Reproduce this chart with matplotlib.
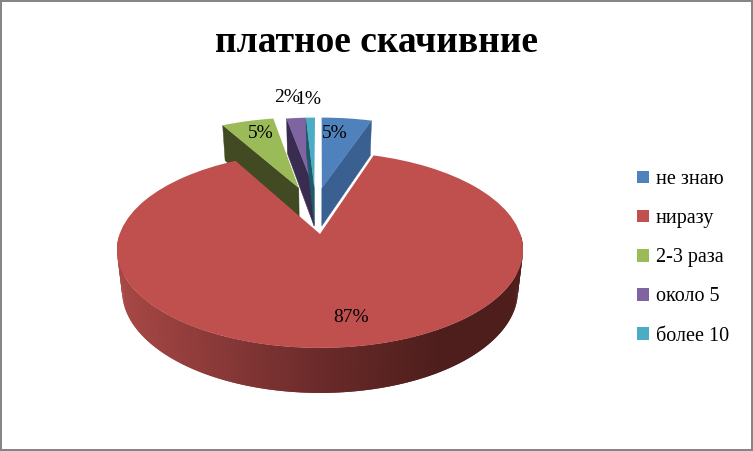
import numpy as np
import matplotlib
matplotlib.use("Agg")
import matplotlib.pyplot as plt
from matplotlib.patches import Patch, Rectangle
from matplotlib.transforms import Transform

# -----------------------------
# DATA
# -----------------------------
title = "платное скачивние"
categories = ["не знаю", "ниразу", "2-3 раза", "около 5", "более 10"]
values = [5.0, 87.0, 5.2, 1.9, 0.9]

top_colors = ["#4f81bd", "#c0504d", "#9bbb59", "#8064a2", "#4bacc6"]
cut_colors = ["#3a6091", "#8c3836", "#414a23", "#3a2c50", "#1f5a6c"]

# -----------------------------
# LAYOUT (pixels of the picture)
# -----------------------------
CX, CY = 320, 234
RX, RY = 200.3, 95.4
PERSP = 0.163
THICK = 40
BOTTOM_SCALE = 0.975

# how far each slice is pulled out, in pie units
pull_u = [0.01, 0.0, -0.115, -0.033, -0.031]
pull_v = [0.523, 0.0, 0.523, 0.523, 0.523]
label_pos = [(335, 133), (351, 317), (261, 134), (287.5, 97), (308.5, 99)]


def project(u, v, level=0.0):
    den = 1 + PERSP * v
    scale = 1 - (1 - BOTTOM_SCALE) * level
    x = CX + RX * scale * u / den
    y = CY + (THICK * level - RY * scale * v) / den
    return x, y


class SliceTransform(Transform):
    input_dims = 2
    output_dims = 2
    is_separable = False

    def __init__(self, du, dv):
        super().__init__()
        self.du = du
        self.dv = dv

    def transform_non_affine(self, values):
        values = np.asarray(values)
        x, y = project(values[:, 0] + self.du, values[:, 1] + self.dv)
        return np.column_stack([x, y])


def wall_color(x):
    t = (x - 117) / 406
    stops = [0, 0.5, 0.8, 1]
    r = np.interp(t, stops, [168, 107, 78, 78])
    g = np.interp(t, stops, [72, 43, 30, 30])
    b = np.interp(t, stops, [70, 42, 28, 28])
    return (r / 255, g / 255, b / 255)


fig = plt.figure(figsize=(7.53, 4.51), dpi=100)
ax = fig.add_axes([0, 0, 1, 1])

# -----------------------------
# PIE
# -----------------------------
wedges, _ = ax.pie(values, colors=top_colors, startangle=90, counterclock=False)
ax.set_aspect("auto")
ax.set_xlim(0, 753)
ax.set_ylim(451, 0)
ax.axis("off")

edges = 90 - 3.6 * np.concatenate([[0], np.cumsum(values)])

# order of drawing: green, purple, teal, blue, then the big red slice on top
for z, i in enumerate([2, 3, 4, 0]):
    du, dv = pull_u[i], pull_v[i]
    # blue shows its right cut, the others show the left one
    edge = np.radians(edges[i + 1] if i == 0 else edges[i])
    u = du + np.array([0, np.cos(edge)])
    v = dv + np.array([0, np.sin(edge)])
    x0, y0 = project(u, v)
    x1, y1 = project(u, v, 1.0)
    ax.fill(np.r_[x0, x1[::-1]], np.r_[y0, y1[::-1]], color=cut_colors[i],
            lw=0.3, zorder=2 + 2 * z)
    wedges[i].set_transform(SliceTransform(du, dv) + ax.transData)
    wedges[i].set_zorder(3 + 2 * z)

# outer wall of the red slice, front part only
# each strip runs under the next one so no seams show
angles = np.radians(np.arange(180, 360.01, 1.0))
for a0, a1 in zip(angles[:-2], angles[2:]):
    u = np.cos([a0, a1])
    v = np.sin([a0, a1])
    x0, y0 = project(u, v)
    x1, y1 = project(u, v, 1.0)
    ax.fill(np.r_[x0, x1[::-1]], np.r_[y0, y1[::-1]],
            color=wall_color(x0.mean()), lw=0, zorder=12)

wedges[1].set_transform(SliceTransform(0, 0) + ax.transData)
wedges[1].set_zorder(13)

# -----------------------------
# TEXT
# -----------------------------
serif = "Liberation Serif"
for val, (tx, ty) in zip(values, label_pos):
    ax.text(tx, ty, f"{round(val)}%", fontsize=14, family=serif, color="black",
            ha="center", va="center", zorder=20)

ax.text(377, 42, title, fontsize=27, family=serif, fontweight="bold",
        ha="center", va="center", zorder=20)

handles = [Patch(facecolor=c, edgecolor="none") for c in top_colors]
ax.legend(handles, categories, loc="upper left", bbox_to_anchor=(637, 170),
          bbox_transform=ax.transData, frameon=False, borderpad=0, borderaxespad=0,
          prop={"family": serif, "size": 14.5}, handlelength=0.6, handleheight=0.6,
          handletextpad=0.32, labelspacing=1.0)

# chart frame
ax.add_patch(Rectangle((1, 1), 751, 449, fill=False, edgecolor="#868686",
                       lw=1.45, zorder=30))

fig.savefig("out.png", dpi=100)
